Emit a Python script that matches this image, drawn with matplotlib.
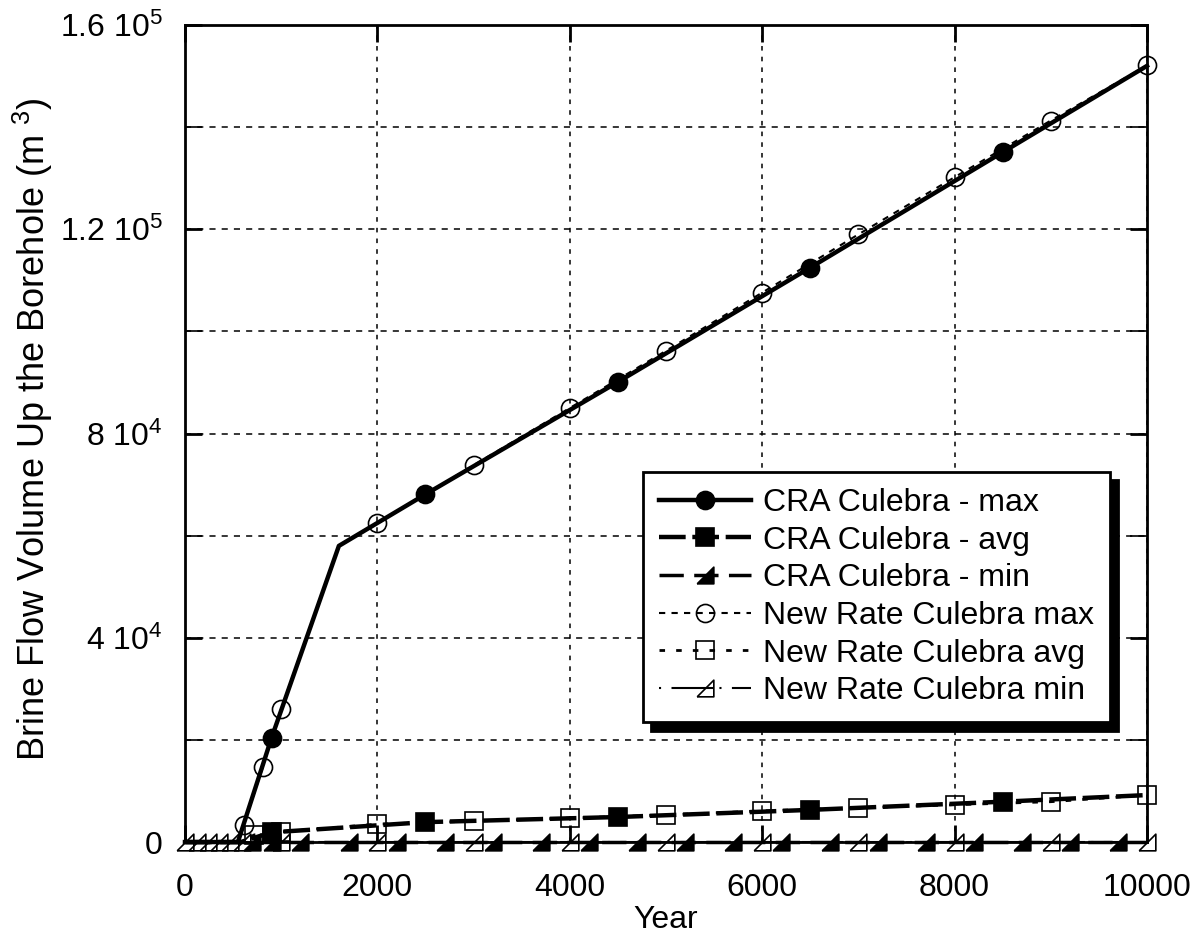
import numpy as np
import matplotlib
matplotlib.use('Agg')
import matplotlib.pyplot as plt
from matplotlib.ticker import MultipleLocator, FixedLocator, FixedFormatter

plt.rcParams['font.family'] = ['Liberation Sans', 'DejaVu Sans']
plt.rcParams['mathtext.fontset'] = 'custom'
plt.rcParams['mathtext.rm'] = 'Liberation Sans'
plt.rcParams['mathtext.it'] = 'Liberation Sans:italic'

# values (year, brine volume m^3)
cra_max_year = [0, 550, 900, 1600, 2500, 4500, 6500, 8500, 10000]
cra_max_vol = [0, 0, 20400, 58000, 68100, 90100, 112500, 135100, 152000]
cra_max_marks = [2, 4, 5, 6, 7]

new_max_year = [0, 550, 610, 810, 1000, 1600, 2000, 3000, 4000, 5000,
                6000, 7000, 8000, 9000, 10000]
new_max_vol = [0, 0, 3300, 14700, 26100, 58000, 62400, 73800, 85000, 96200,
               107600, 119000, 130200, 141300, 152100]
new_max_marks = [2, 3, 4, 6, 7, 8, 9, 10, 11, 12, 13, 14]

cra_avg_year = [0, 580, 900, 2500, 4500, 6500, 8500, 10000]
cra_avg_vol = [0, 0, 1900, 3900, 4900, 6300, 7900, 9200]
cra_avg_marks = [2, 3, 4, 5, 6]

new_avg_year = [0, 580, 720, 1000, 2000, 3000, 4000, 5000, 6000, 7000,
                8000, 9000, 10000]
new_avg_vol = [0, 0, 1400, 2000, 3500, 4100, 4700, 5300, 6100, 6700,
               7300, 7900, 9200]
new_avg_marks = [2, 3, 4, 5, 6, 7, 8, 9, 10, 11, 12]

cra_min_year = [0, 700, 900, 1200, 1700, 2200, 2700, 3200, 3700, 4200, 4700,
                5200, 5700, 6200, 6700, 7200, 7700, 8200, 8700, 9200, 9700,
                10000]
cra_min_vol = [0] * len(cra_min_year)
cra_min_marks = list(range(1, 21))

new_min_year = [0, 120, 235, 350, 470, 590, 1000, 2000, 3000, 4000, 5000,
                6000, 7000, 8000, 9000, 10000]
new_min_vol = [0] * len(new_min_year)
new_min_marks = list(range(0, 16))

labels = ['CRA Culebra - max', 'CRA Culebra - avg', 'CRA Culebra - min',
          'New Rate Culebra max', 'New Rate Culebra avg', 'New Rate Culebra min']

y_ticks = [0, 40000, 80000, 120000, 160000]
y_ticklabels = ['0', r'4 10$^4$', r'8 10$^4$', r'1.2 10$^5$', r'1.6 10$^5$']

tri = [(-1, -1), (1, -1), (1, 1), (-1, -1)]


def series(ax, x, y, marks, ls, lw, marker, ms, mfc):
    x = np.asarray(x)
    y = np.asarray(y)
    line, = ax.plot(x, y, color='black', ls=ls, lw=lw, clip_on=False,
                    dash_capstyle='butt')
    pts, = ax.plot(x[marks], y[marks], ls='none', marker=marker, ms=ms,
                   mfc=mfc, mec='black', mew=1.2, clip_on=False)
    return (line, pts)


def main():
    fig = plt.figure(figsize=(11.98, 9.38), dpi=100)
    ax = fig.add_axes([0.1544, 0.1023, 0.803, 0.871])

    handles = []
    handles.append(series(ax, cra_max_year, cra_max_vol, cra_max_marks,
                          '-', 3.2, 'o', 13, 'black'))
    handles.append(series(ax, cra_avg_year, cra_avg_vol, cra_avg_marks,
                          (0, (6, 1.5)), 3.2, 's', 13, 'black'))
    handles.append(series(ax, cra_min_year, cra_min_vol, cra_min_marks,
                          (0, (7, 3)), 2.5, tri, 12, 'black'))
    handles.append(series(ax, new_max_year, new_max_vol, new_max_marks,
                          (0, (3, 3)), 1.5, 'o', 13, 'none'))
    handles.append(series(ax, new_avg_year, new_avg_vol, new_avg_marks,
                          (0, (2, 4)), 2, 's', 13, 'none'))
    handles.append(series(ax, new_min_year, new_min_vol, new_min_marks,
                          (0, (1, 5, 20, 3)), 1.5, tri, 12, 'none'))

    ax.set_xlim(0, 10000)
    ax.set_ylim(0, 160000)
    ax.xaxis.set_major_locator(MultipleLocator(2000))
    ax.yaxis.set_major_locator(FixedLocator(y_ticks))
    ax.yaxis.set_major_formatter(FixedFormatter(y_ticklabels))
    ax.yaxis.set_minor_locator(MultipleLocator(20000))

    ax.grid(True, which='major', axis='x', color='black', lw=1.1,
            ls=(0, (3, 4)))
    ax.grid(True, which='both', axis='y', color='black', lw=1.1,
            ls=(0, (4, 4)))
    ax.set_axisbelow(True)

    ax.tick_params(which='both', direction='in', top=True, right=True)
    ax.tick_params(which='major', length=12, width=2)
    ax.tick_params(which='minor', length=12, width=1.2)
    ax.tick_params(axis='x', labelsize=23, pad=22)
    ax.tick_params(axis='y', labelsize=23, pad=16)
    for s in ax.spines.values():
        s.set_linewidth(2)

    ax.set_xlabel('Year', fontsize=23, labelpad=2)
    ax.set_ylabel(r'Brine Flow Volume Up the Borehole (m $^3$)', fontsize=26)
    ax.yaxis.set_label_coords(-0.135, 0.505)

    leg = ax.legend(handles, labels, loc='upper left',
                    bbox_to_anchor=(0.476, 0.453), borderaxespad=0,
                    fontsize=23, handlelength=2.9, handletextpad=0.35,
                    labelspacing=0.24, borderpad=0.5, fancybox=False,
                    framealpha=1, edgecolor='black',
                    shadow={'ox': 6, 'oy': -6, 'color': 'black', 'alpha': 1})
    leg.get_frame().set_linewidth(2)

    fig.savefig('out.png', dpi=100)


if __name__ == "__main__":
    main()
